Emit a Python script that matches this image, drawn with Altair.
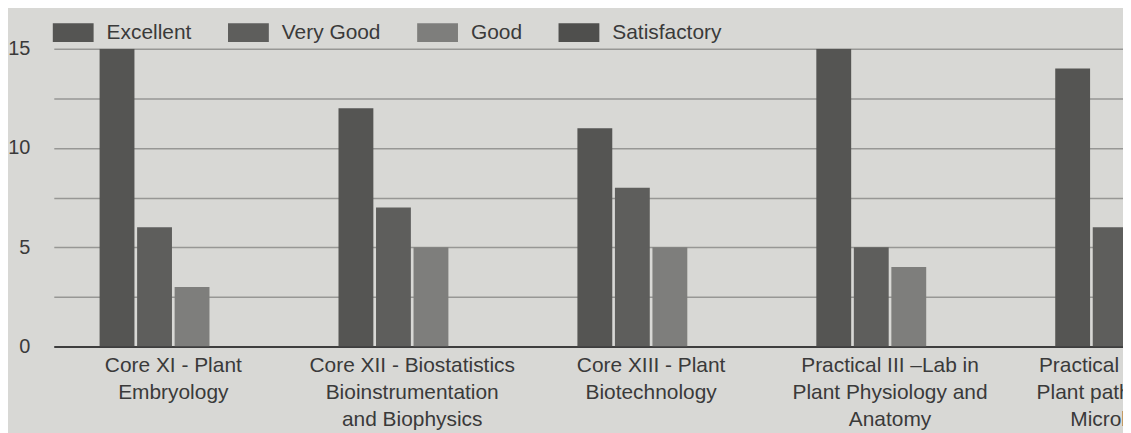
import altair as alt
import pandas as pd

categories = [
    "Core XI - Plant|Embryology",
    "Core XII - Biostatistics|Bioinstrumentation|and Biophysics",
    "Core XIII - Plant|Biotechnology",
    "Practical III \u2013Lab in|Plant Physiology and|Anatomy",
    "Practical IV \u2013Lab in|Plant pathology and|Microbiology",
]
series = ["Excellent", "Very Good", "Good", "Satisfactory"]
excellent = [15, 12, 11, 15, 14]
very_good = [6, 7, 8, 5, 6]
good = [3, 5, 5, 4, 4]
satisfactory = [0, 0, 0, 0, 0]
y_ticks = [0, 2.5, 5, 7.5, 10, 12.5, 15]

rows = []
for s, vals in zip(series, [excellent, very_good, good, satisfactory]):
    for c, v in zip(categories, vals):
        rows.append({"course": c, "rating": s, "count": v})
df = pd.DataFrame(rows)

colors = ["#555553", "#5e5e5c", "#7e7e7c", "#4f4f4d"]
text_color = "#3a3a3a"
font = "Liberation Sans"

chart = (
    alt.Chart(df)
    .mark_bar(clip=True)
    .encode(
        x=alt.X(
            "course:N",
            sort=categories,
            scale=alt.Scale(domain=categories, range=[1, 1201],
                            paddingInner=0.383, paddingOuter=0.1917),
            axis=alt.Axis(
                title=None,
                labelExpr="split(datum.label, '|')",
                labelAngle=0,
                labelFontSize=21,
                labelLineHeight=27,
                labelColor=text_color,
                labelFont=font,
                labelPadding=8,
                labelLimit=0,
                labelOverlap=False,
                labelBound=False,
                ticks=False,
                domain=True,
                domainColor="#3e3e3e",
                domainWidth=2,
                grid=False,
            ),
        ),
        xOffset=alt.XOffset(
            "rating:N",
            sort=series,
            scale=alt.Scale(domain=series, paddingInner=0.071, paddingOuter=0),
        ),
        y=alt.Y(
            "count:Q",
            scale=alt.Scale(domain=[0, 15], nice=False),
            axis=alt.Axis(
                title=None,
                values=y_ticks,
                labelExpr="datum.value % 5 == 0 ? datum.label : ''",
                labelFontSize=20,
                labelColor=text_color,
                labelFont=font,
                labelPadding=23,
                ticks=False,
                domain=False,
                grid=True,
                gridColor="#979795",
                gridWidth=1.5,
            ),
        ),
        color=alt.Color(
            "rating:N",
            sort=series,
            scale=alt.Scale(domain=series, range=colors),
            legend=alt.Legend(
                title=None,
                orient="none",
                legendX=0,
                legendY=-37,
                direction="horizontal",
                columns=4,
                columnPadding=36,
                symbolType="M-1,-0.463H1V0.463H-1Z",
                symbolSize=1681,
                symbolStrokeWidth=0,
                symbolOpacity=1,
                labelFontSize=21,
                labelFont=font,
                labelColor=text_color,
                labelOffset=13,
                labelLimit=0,
            ),
        ),
    )
    .properties(
        width=1075,
        height=299,
        background="#d8d8d5",
        padding={"left": 45, "top": 40, "right": 0, "bottom": 86},
        autosize=alt.AutoSizeParams(type="none"),
    )
    .configure_view(stroke=None)
)

chart.save("out.html", embed_options={"renderer": "svg", "actions": False})
